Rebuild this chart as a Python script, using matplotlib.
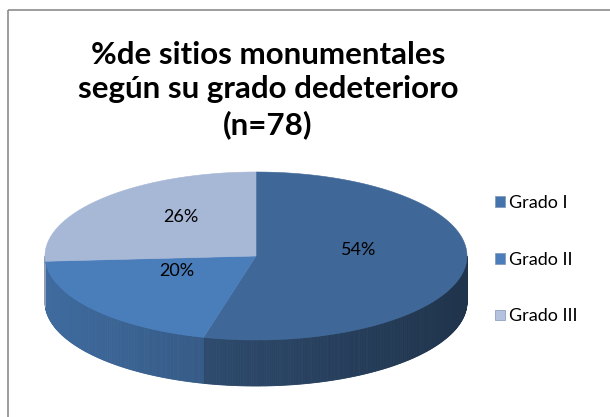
import numpy as np
import matplotlib.pyplot as plt
from matplotlib.patches import Patch, Rectangle

# data
labels = ["Grado I", "Grado II", "Grado III"]
values = [54, 20, 26]
top_colors = ["#3F6797", "#4A7EBB", "#A7B7D6"]
legend_colors = ["#4573AC", "#4A7EBB", "#B4C2DE"]

title = "%de sitios monumentales\nsegún su grado dedeterioro\n(n=78)"

# pie geometry in pixels
cx, cy, a, b, depth = 256, 256, 211, 84, 46


def pt(theta, dy=0.0):
    t = np.radians(theta)
    return cx + a * np.cos(t), cy - b * np.sin(t) + dy


def shade(color, f):
    rgb = np.array(plt.matplotlib.colors.to_rgb(color))
    return tuple(np.clip(rgb * f, 0, 1))


fig = plt.figure(figsize=(6.1, 4.17), dpi=100)
ax = fig.add_axes([0, 0, 1, 1])
ax.set_xlim(0, 610)
ax.set_ylim(417, 0)
ax.axis("off")

# chart frame (cut off at right and bottom, like the reference)
ax.add_patch(Rectangle((8, 10), 640, 440, fill=False, edgecolor="#8C8C8C", lw=1.2))

fracs = np.array(values) / sum(values) * 360
starts = 90 - np.concatenate([[0], np.cumsum(fracs)[:-1]])
ends = starts - fracs

# side walls (front half only), thin strips for a gradient
for s, e, col in zip(starts, ends, top_colors):
    lo, hi = max(e, -180), min(s, 0)
    if lo >= hi:
        continue
    th = np.linspace(hi, lo, max(int((hi - lo) * 2), 2))
    for t1, t2 in zip(th[:-1], th[1:]):
        f = 0.675 - 0.175 * np.cos(np.radians((t1 + t2) / 2))
        x1, y1 = pt(t1)
        x2, y2 = pt(t2)
        c = shade(col, f)
        ax.fill([x1, x2, x2, x1], [y1, y2, y2 + depth, y1 + depth],
                color=c, ec=c, lw=0.6, zorder=2)

# top faces
for s, e, col in zip(starts, ends, top_colors):
    th = np.linspace(s, e, 200)
    xs, ys = pt(th)
    ax.fill(np.r_[cx, xs], np.r_[cy, ys], color=col, ec=col, lw=0.4, zorder=3)

# percentage labels
for s, e, v in zip(starts, ends, values):
    m = np.radians((s + e) / 2)
    ax.text(cx + 0.49 * a * np.cos(m), cy - 11 - 0.49 * b * np.sin(m), f"{v}%",
            ha="center", va="center", fontsize=13, family="Lato", zorder=5)

ax.text(268, 90, title, ha="center", va="center", fontsize=22.5,
        fontweight="bold", family="Lato", linespacing=1.28)

handles = [Patch(facecolor=c, edgecolor="#7F93B8", lw=0.5) for c in legend_colors]
fig.legend(handles, labels, loc="center left", bbox_to_anchor=(0.811, 0.377),
           frameon=False, prop={"family": "Lato", "size": 13},
           borderpad=0, borderaxespad=0,
           labelspacing=2.25, handlelength=0.55, handleheight=0.55, handletextpad=0.25)

fig.savefig("out.png", dpi=100)
